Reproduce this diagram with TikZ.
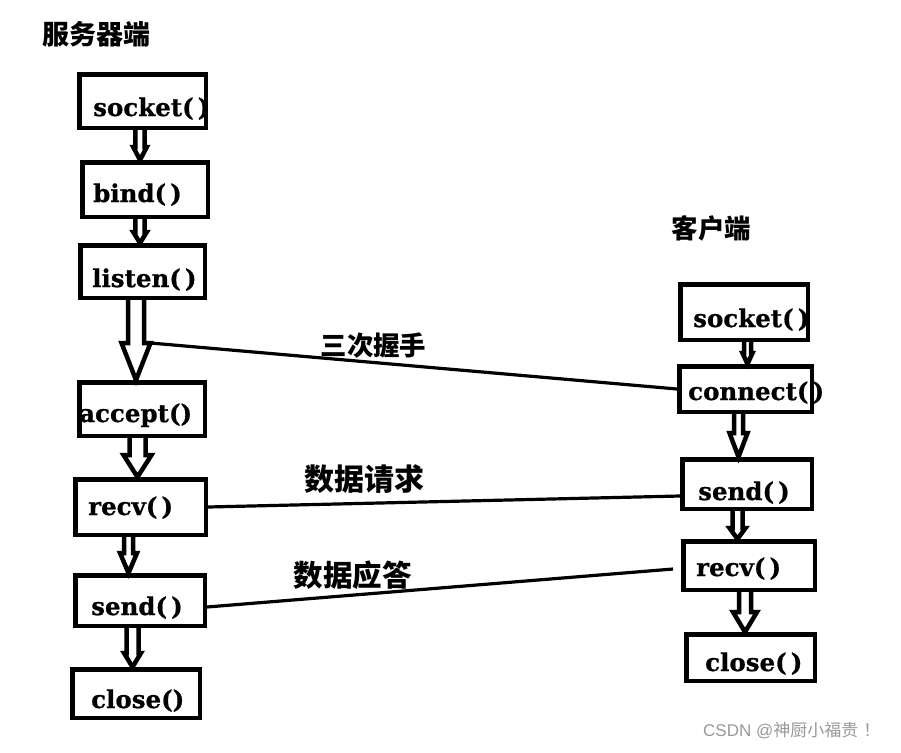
\documentclass[tikz,border=0pt]{standalone}
\usepackage{fontspec}
\setmainfont{DejaVu Serif}[BoldFeatures={FakeBold=0.8}]
\newfontfamily\cjk{Noto Sans CJK SC}
\newfontfamily\wmfont{Liberation Sans}
\usetikzlibrary{calc}
\newcommand\harrow[6]{%
  \draw[harr] ({#3-#4},0 |- #1.south) -- ({#3-#4},#6) -- ({#3-#5},#6)
    -- (#3,0 |- #2.north) -- ({#3+#5},#6) -- ({#3+#4},#6) -- ({#3+#4},0 |- #1.south);}
\begin{document}
\begin{tikzpicture}[x=1pt,y=-1pt,
  box/.style={draw, line width=4.5pt, inner sep=0pt},
  lbl/.style={font=\fontsize{24.5}{28}\selectfont\bfseries, anchor=base west, inner sep=0pt},
  harr/.style={draw, line width=4.5pt, line join=miter, miter limit=3},
  conn/.style={draw, line width=3.2pt},
  cjklbl/.style={font=\cjk\bfseries, inner sep=0pt}]
\useasboundingbox[fill=white] (0,0) rectangle (901,752);
% server boxes
\node[box, minimum width=126.5pt, minimum height=53.5pt] (l1) at (142.5,101) {};
\node[box, minimum width=125.5pt, minimum height=54.5pt] (l2) at (145,189.5) {};
\node[box, minimum width=124.5pt, minimum height=52.5pt] (l3) at (142.5,271.5) {};
\node[box, minimum width=125.5pt, minimum height=53.5pt] (l4) at (142,409) {};
\node[box, minimum width=130.5pt, minimum height=55.5pt] (l5) at (140.5,507) {};
\node[box, minimum width=129.5pt, minimum height=50.5pt] (l6) at (140,600.5) {};
\node[box, minimum width=127.5pt, minimum height=48.5pt] (l7) at (136,693.5) {};
% client boxes
\node[box, minimum width=127.5pt, minimum height=55.5pt] (r1) at (744,312) {};
\node[box, minimum width=132.5pt, minimum height=45.5pt] (r2) at (745.5,389) {};
\node[box, minimum width=129.5pt, minimum height=49.5pt] (r3) at (747,484) {};
\node[box, minimum width=131.5pt, minimum height=48.5pt] (r4) at (749,565.5) {};
\node[box, minimum width=128.5pt, minimum height=46.5pt] (r5) at (750.5,657.5) {};
% labels
\node[lbl] (t1) at (93,116) {socket(\,)};
\node[lbl] (t2) at (93,202) {bind(\,)};
\node[lbl] (t3) at (92,287) {listen(\,)};
\node[lbl] (t4) at (79,422) {accept()};
\node[lbl] (t5) at (88,515) {recv(\,)};
\node[lbl] (t6) at (91,615) {send(\,)};
\node[lbl] (t7) at (91,708) {close()};
\node[lbl] (u1) at (693,327) {socket(\,)};
\node[lbl] (u2) at (688,400) {connect(\,)};
\node[lbl] (u3) at (698,500) {send(\,)};
\node[lbl] (u4) at (696,576) {recv(\,)};
\node[lbl] (u5) at (705,671) {close(\,)};
% hollow arrows
\harrow{l1}{l2}{140}{4.7}{6.8}{147}
\harrow{l2}{l3}{140}{4.7}{6.8}{232}
\harrow{l3}{l4}{136}{8}{14.5}{343}
\harrow{l4}{l5}{137.5}{8}{14}{455}
\harrow{l5}{l6}{128.5}{4.5}{8.5}{553}
\harrow{l6}{l7}{132.5}{6}{8.5}{653}
\harrow{r1}{r2}{747.5}{3.5}{5}{353}
\harrow{r2}{r3}{738.5}{4.5}{9}{433}
\harrow{r3}{r4}{737.5}{5}{8}{528}
\harrow{r4}{r5}{745}{6}{12}{612}
% connectors
\coordinate (h3) at (150.5,343);
\draw[conn] (h3) -- (r2.west);
\draw[conn] (l5.east) -- ($(r3.west)+(0,12)$);
\draw[conn] ($(l6.east)+(0,6.5)$) -- ($(r4.west)+(-8,3.5)$);
% titles
\node[cjklbl, font=\cjk\bfseries\fontsize{27}{30}\selectfont] (srv) at (96.5,34.5) {服务器端};
\node[cjklbl, font=\cjk\bfseries\fontsize{26.5}{30}\selectfont] (cli) at (711.5,228) {客户端};
\node[cjklbl, font=\cjk\bfseries\fontsize{26.4}{30}\selectfont] (m1) at (373.5,346) {三次握手};
\node[cjklbl, font=\cjk\bfseries\fontsize{30}{33}\selectfont] (m2) at (364,479.5) {数据请求};
\node[cjklbl, font=\cjk\bfseries\fontsize{29.5}{33}\selectfont] (m3) at (352.5,575.5) {数据应答};
% watermark
\node[anchor=west, inner sep=0pt, text=black!40, font=\fontsize{17}{19}\selectfont] (wm) at (703,731) {\wmfont CSDN @\cjk 神厨小福贵\hspace{5pt}！};
\end{tikzpicture}
\end{document}
